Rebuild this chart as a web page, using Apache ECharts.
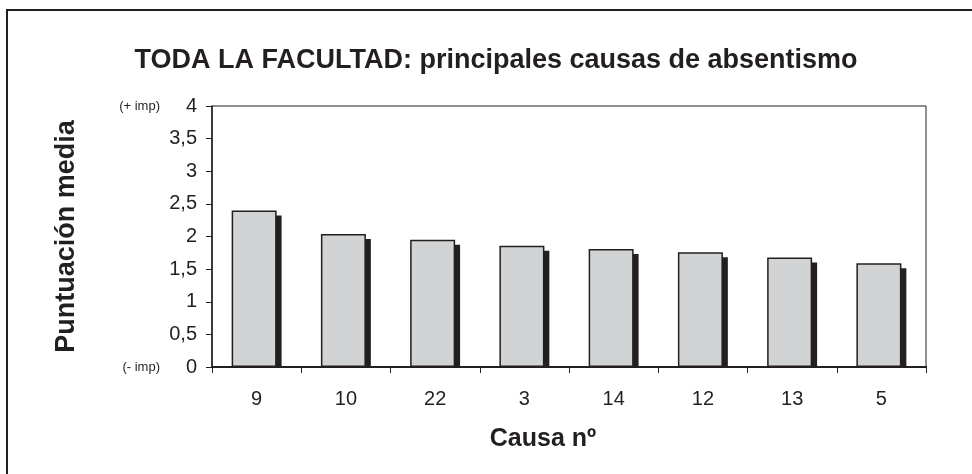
<!DOCTYPE html>
<html>
<head>
<meta charset="utf-8">
<script src="https://cdn.jsdelivr.net/npm/echarts@6/dist/echarts.min.js"></script>
<style>
  html, body { margin: 0; padding: 0; background: #fff; }
  #main { width: 972px; height: 474px; }
</style>
</head>
<body>
<div id="main"></div>
<script>
// causas (eje x) y puntuación media
var causas = ['9', '10', '22', '3', '14', '12', '13', '5'];
var puntuacion = [2.4, 2.04, 1.95, 1.86, 1.81, 1.76, 1.68, 1.59];
var yMin = 0, yMax = 4, yStep = 0.5;

var ink = '#231f20';
var fuente = 'Liberation Sans, Arial, sans-serif';
// la sombra baja unos 5px: 5px / (261px / 4 unidades)
var bajada = 5 / (261 / (yMax - yMin));
var sombra = puntuacion.map(function (v) { return v - bajada; });

var myChart = echarts.init(document.getElementById('main'));
myChart.setOption({
  animation: false,
  textStyle: { fontFamily: fuente, color: ink },
  title: {
    text: 'TODA LA FACULTAD: principales causas de absentismo',
    left: 491,
    textAlign: 'center',
    top: 42,
    textStyle: { fontSize: 27, fontWeight: 'bold', color: ink, fontFamily: fuente }
  },
  graphic: [{
    type: 'rect',
    shape: { x: 7, y: 10, width: 1000, height: 600 },
    style: { fill: 'none', stroke: ink, lineWidth: 2 },
    silent: true
  }],
  grid: {
    left: 212, top: 106, right: 46, bottom: 107,
    show: true, borderColor: ink, borderWidth: 1
  },
  xAxis: {
    type: 'category',
    data: causas,
    name: 'Causa nº',
    nameLocation: 'middle',
    nameGap: 60,
    nameTextStyle: { fontSize: 25, fontWeight: 'bold', color: ink, padding: [0, 52, 0, 0] },
    axisLine: { lineStyle: { color: ink, width: 2 } },
    axisTick: { show: true, alignWithLabel: false, length: 6, lineStyle: { color: ink } },
    axisLabel: { fontSize: 20, color: ink, margin: 22 }
  },
  yAxis: {
    type: 'value',
    min: yMin, max: yMax, interval: yStep,
    name: 'Puntuación media',
    nameLocation: 'middle',
    nameGap: 132,
    nameTextStyle: { fontSize: 27, fontWeight: 'bold', color: ink },
    splitLine: { show: false },
    axisLine: { show: true, lineStyle: { color: ink, width: 1.5 } },
    axisTick: { show: true, length: 6, lineStyle: { color: ink } },
    axisLabel: {
      margin: 15,
      formatter: function (v) {
        var t = String(v).replace('.', ',');
        if (v === yMax) return '{s|(+ imp)}{n|' + t + '}';
        if (v === yMin) return '{s|(- imp)}{n|' + t + '}';
        return '{n|' + t + '}';
      },
      rich: {
        s: { fontSize: 13, color: ink },
        n: { fontSize: 20, color: ink, width: 37, align: 'right' }
      }
    }
  },
  series: [
    {
      name: 'media',
      type: 'bar',
      data: puntuacion,
      barWidth: 45,
      barGap: '-89%',
      z: 3,
      itemStyle: { color: '#d1d3d4', borderColor: ink, borderWidth: 1.5 }
    },
    {
      name: 'sombra',
      type: 'bar',
      data: sombra,
      barWidth: 45,
      z: 2,
      itemStyle: { color: ink }
    }
  ]
});
</script>
</body>
</html>
